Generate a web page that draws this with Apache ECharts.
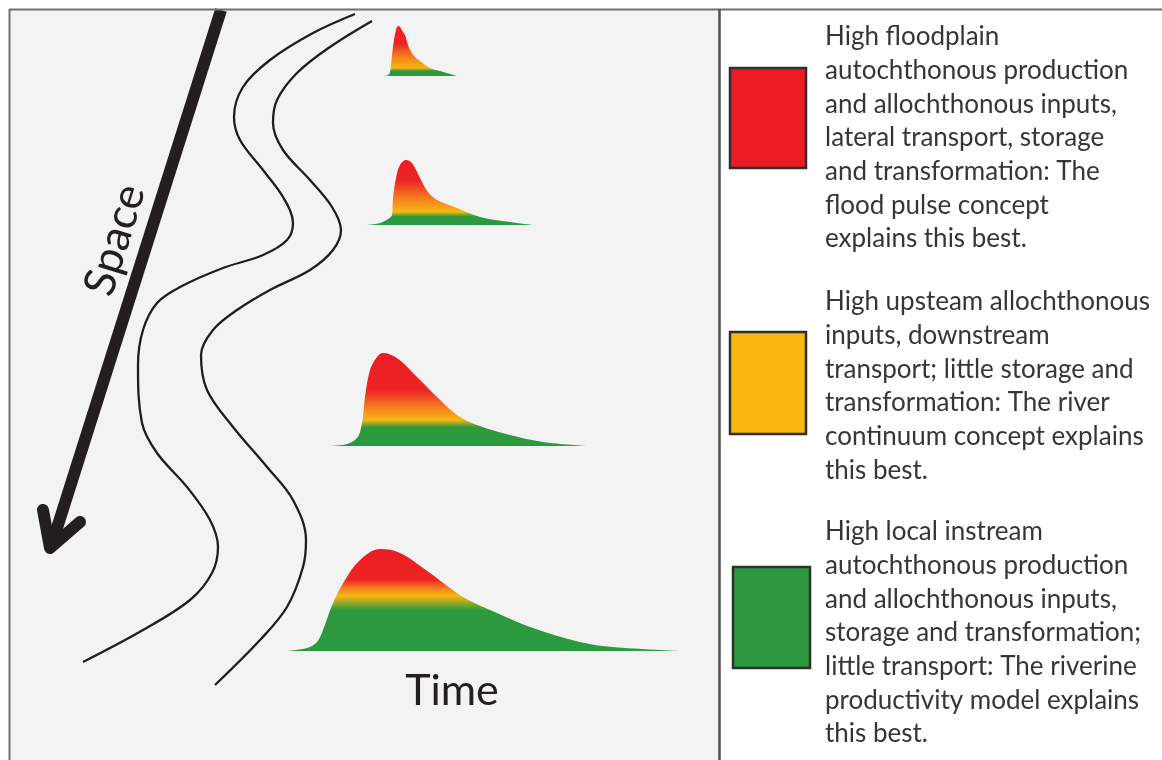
<!DOCTYPE html>
<html>
<head>
<meta charset="utf-8">
<script src="https://cdn.jsdelivr.net/npm/echarts@6/dist/echarts.min.js"></script>
<style>
html,body{margin:0;padding:0;background:#ffffff;}
#chart{width:1162px;height:760px;}
</style>
</head>
<body>
<div id="chart"></div>
<script>
// ---------- DATA ----------
// River banks (schematic map coordinates)
const leftBank = [[355,14],[313,33],[270,60],[243,87],[234,117],[240,140],[263,170],[283,197],[293,223],[287,240],[263,255],[223,268],[180,287],[157,303],[143,330],[138,365],[142,423],[157,453],[187,487],[210,520],[218,547],[212,573],[190,600],[143,630],[83,662]];
const rightBank = [[372,21],[330,47],[297,73],[277,100],[273,123],[283,150],[310,180],[332,207],[341,230],[333,250],[310,270],[270,290],[237,310],[213,330],[201,355],[207,390],[233,427],[267,467],[293,500],[306,540],[303,567],[287,607],[260,640],[215,685]];
// "Space" arrow (shaft and head) in map coordinates
const arrowShaft = [[221,10],[51,547]];
const arrowHead = [[43,510],[50,548],[80,522]];

// Hydrographs (time since start, flow above base), upstream -> downstream
const pulse1Time = [0,4,6,8,10,12,14,16,19,21,24,26,31,36,46,56,66,73];
const pulse1Flow = [0,1,4,21,36,46,50,49,44,41,31,26,19,15,8,5,2,0];
const pulse2Time = [0,13,21,25,26,29,33,39,45,53,61,70,90,113,143,166];
const pulse2Flow = [0,2,6,10,27,47,60,65,62,47,33,25,17,8,3,0];
const pulse3Time = [0,20,34,39,42,47,54,60,74,94,114,134,154,187,220,264];
const pulse3Flow = [0,1,8,23,49,76,89,93,88,69,49,31,21,11,4,0];
const pulse4Time = [0,20,30,36,46,58,73,93,113,143,176,210,243,293,326,393];
const pulse4Flow = [0,3,9,21,48,71,91,102,98,78,54,38,24,9,4,0];

// Legend
const legendColors = ['#ed1c24', '#f8b80f', '#2b983e'];
const legendTexts = [
  ['High floodplain','autochthonous production','and allochthonous inputs,','lateral transport, storage','and transformation: The','flood pulse concept','explains this best.'],
  ['High upsteam allochthonous','inputs, downstream','transport; little storage and','transformation: The river','continuum concept explains','this best.'],
  ['High local instream','autochthonous production','and allochthonous inputs,','storage and transformation;','little transport: The riverine','productivity model explains','this best.']
];
const axisLabelSpace = 'Space';
const axisLabelTime = 'Time';

// ---------- LAYOUT / STYLE ----------
const pulseOrigins = [[384,76],[367,225],[323,446],[287,651]];
const pulseBands = [
  [0.35,0.6,0.84,0.9],
  [0.32,0.58,0.8,0.87],
  [0.4,0.58,0.72,0.8],
  [0.3,0.38,0.46,0.6]
];
const legendBoxes = [[730,68,76,100],[730,332,76,102],[733,567,77,101]];
const legendTextTop = [20,285,515];
const FONT = 'Lato, "Open Sans", sans-serif';

const pulses = [
  [pulse1Time, pulse1Flow],
  [pulse2Time, pulse2Flow],
  [pulse3Time, pulse3Flow],
  [pulse4Time, pulse4Flow]
];

const grids = [{left:0, top:0, width:1162, height:760}];
const xAxes = [{gridIndex:0, type:'value', min:0, max:1162, show:false}];
const yAxes = [{gridIndex:0, type:'value', min:0, max:760, inverse:true, show:false}];
const series = [];

const lineBase = {type:'line', xAxisIndex:0, yAxisIndex:0, symbol:'none', silent:true, z:3};
series.push(Object.assign({}, lineBase, {data:leftBank, smooth:0.35, lineStyle:{color:'#1e1e1e', width:2.3}}));
series.push(Object.assign({}, lineBase, {data:rightBank, smooth:0.35, lineStyle:{color:'#1e1e1e', width:2.3}}));
series.push(Object.assign({}, lineBase, {data:arrowShaft, lineStyle:{color:'#231f20', width:12, cap:'butt'}}));
series.push(Object.assign({}, lineBase, {data:arrowHead, lineStyle:{color:'#231f20', width:12, cap:'round', join:'round'}}));

pulses.forEach(function(p, i){
  const t = p[0], f = p[1];
  const tMax = Math.max.apply(null, t);
  const fMax = Math.max.apply(null, f);
  const o = pulseOrigins[i];
  const gi = i + 1;
  grids.push({left:o[0], top:o[1] - fMax, width:tMax, height:fMax});
  xAxes.push({gridIndex:gi, type:'value', min:0, max:tMax, show:false});
  yAxes.push({gridIndex:gi, type:'value', min:0, max:fMax, show:false});
  const b = pulseBands[i];
  series.push({
    type:'line', xAxisIndex:gi, yAxisIndex:gi, symbol:'none', silent:true, smooth:0.35, z:4,
    data: t.map(function(v, k){ return [v, f[k]]; }),
    lineStyle:{width:0, opacity:0},
    areaStyle:{
      opacity:1,
      color:{type:'linear', x:0, y:0, x2:0, y2:1, colorStops:[
        {offset:0, color:'#ed1c24'},
        {offset:b[0], color:'#ee2524'},
        {offset:b[1], color:'#f47b1f'},
        {offset:b[2], color:'#f8b612'},
        {offset:b[3], color:'#2d9a3e'},
        {offset:1, color:'#2b993f'}
      ]}
    }
  });
});

const graphics = [
  {type:'rect', z:-10, shape:{x:0, y:0, width:1162, height:760}, style:{fill:'#ffffff'}},
  {type:'rect', z:-9, shape:{x:10, y:10, width:710, height:760}, style:{fill:'#f3f3f3'}},
  {type:'line', z:50, shape:{x1:9.5, y1:9, x2:9.5, y2:760}, style:{stroke:'#707070', lineWidth:2}},
  {type:'line', z:50, shape:{x1:9, y1:9.5, x2:1162, y2:9.5}, style:{stroke:'#707070', lineWidth:2}},
  {type:'line', z:50, shape:{x1:719.5, y1:9, x2:719.5, y2:760}, style:{stroke:'#505050', lineWidth:2.5}},
  {type:'text', z:60, x:115, y:240, rotation:72.6*Math.PI/180,
    style:{text:axisLabelSpace, x:0, y:0, font:'44px ' + FONT, fill:'#231f20', textAlign:'center', textVerticalAlign:'middle'}},
  {type:'text', z:60, x:452, y:691,
    style:{text:axisLabelTime, x:0, y:0, font:'43px ' + FONT, fill:'#231f20', textAlign:'center', textVerticalAlign:'middle'}}
];
legendColors.forEach(function(c, i){
  const r = legendBoxes[i];
  graphics.push({type:'rect', z:60, shape:{x:r[0], y:r[1], width:r[2], height:r[3]}, style:{fill:c, stroke:'#2f2f2f', lineWidth:2.5}});
  graphics.push({type:'text', z:60, x:825, y:legendTextTop[i],
    style:{text:legendTexts[i].join('\n'), x:0, y:0, font:'26px ' + FONT, lineHeight:33.7, fill:'#363636', textAlign:'left', textVerticalAlign:'top'}});
});

const chart = echarts.init(document.getElementById('chart'), null, {renderer:'canvas'});
chart.setOption({
  animation:false,
  backgroundColor:'#ffffff',
  grid:grids,
  xAxis:xAxes,
  yAxis:yAxes,
  series:series,
  graphic:graphics
});
</script>
</body>
</html>
